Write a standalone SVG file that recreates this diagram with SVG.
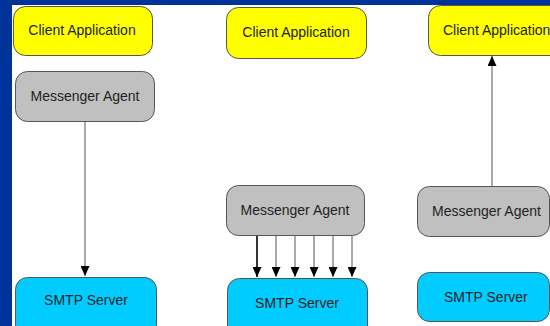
<svg xmlns="http://www.w3.org/2000/svg" width="550" height="326" viewBox="0 0 550 326">
<defs>
<marker id="ah" markerUnits="userSpaceOnUse" markerWidth="10" markerHeight="9" refX="10" refY="4.5" orient="auto">
<path d="M0,0 L10,4.5 L0,9 z" fill="#000"/>
</marker>
<style>
.box{stroke:#555;stroke-width:1}
.ca{fill:#ffff00}
.ma{fill:#c0c0c0}
.sm{fill:#00ccff}
text{font-family:"Liberation Sans",Arial,sans-serif;font-size:14px;fill:#222}
.c{text-anchor:middle}
.ln{stroke:#555;stroke-width:1;fill:none}
</style>
</defs>
<rect x="0" y="0" width="550" height="326" fill="#003399"/>
<rect x="12" y="5" width="540" height="325" fill="#ffffff"/>
<g id="connectors">
<line class="ln" x1="85" y1="121" x2="85" y2="276" marker-end="url(#ah)"/>
<line class="ln" x1="257" y1="235" x2="257" y2="277" style="stroke:#333;stroke-width:2" marker-end="url(#ah)"/>
<line class="ln" x1="276" y1="235" x2="276" y2="277" marker-end="url(#ah)"/>
<line class="ln" x1="295" y1="235" x2="295" y2="277" marker-end="url(#ah)"/>
<line class="ln" x1="314" y1="235" x2="314" y2="277" marker-end="url(#ah)"/>
<line class="ln" x1="333" y1="235" x2="333" y2="277" marker-end="url(#ah)"/>
<line class="ln" x1="352" y1="235" x2="352" y2="277" marker-end="url(#ah)"/>
<line class="ln" x1="492" y1="186" x2="492" y2="56" marker-end="url(#ah)"/>
</g>
<g id="client1"><rect class="box ca" x="13.5" y="6.5" width="139" height="49" rx="12"/><text class="c" x="82" y="35">Client Application</text></g>
<g id="agent1"><rect class="box ma" x="15.5" y="71.5" width="139" height="50" rx="12"/><text class="c" x="85" y="101">Messenger Agent</text></g>
<g id="smtp1"><rect class="box sm" x="15.5" y="277.5" width="141" height="60" rx="12"/><text class="c" x="86" y="305">SMTP Server</text></g>
<g id="client2"><rect class="box ca" x="226.5" y="7.5" width="140" height="51" rx="12"/><text class="c" x="296" y="37">Client Application</text></g>
<g id="agent2"><rect class="box ma" x="226.5" y="185.5" width="138" height="50" rx="12"/><text class="c" x="295" y="215">Messenger Agent</text></g>
<g id="smtp2"><rect class="box sm" x="227.5" y="278.5" width="140" height="60" rx="12"/><text class="c" x="297" y="308">SMTP Server</text></g>
<g id="client3"><rect class="box ca" x="428.5" y="5.5" width="140" height="50" rx="12"/><text x="443" y="35">Client Application</text></g>
<g id="agent3"><rect class="box ma" x="417.5" y="186.5" width="132" height="50" rx="12"/><text x="432" y="216">Messenger Agent</text></g>
<g id="smtp3"><rect class="box sm" x="417.5" y="272.5" width="132" height="49" rx="12"/><text x="444" y="302">SMTP Server</text></g>
</svg>
